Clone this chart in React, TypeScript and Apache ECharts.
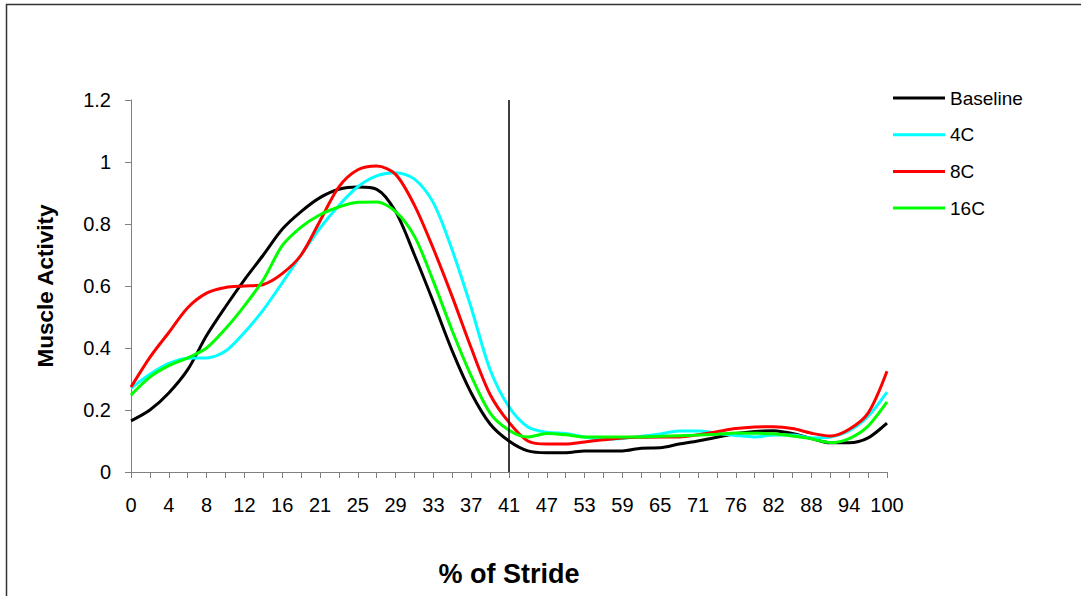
import React, { useEffect, useRef } from "react";
import * as echarts from "echarts";

const strideLabels = [
  "0", "2", "4", "6", "8", "10", "12", "14", "16", "18", "21", "23", "25", "27", "29", "31", "33", "35", "37", "39",
  "41", "44", "47", "50", "53", "56", "59", "62", "65", "68", "71", "73", "76", "79", "82", "85", "88", "91", "94", "97", "100",
];

const baseline = [
  0.165, 0.2, 0.255, 0.33, 0.44, 0.533, 0.62, 0.7, 0.783, 0.84,
  0.885, 0.912, 0.919, 0.912, 0.84, 0.7, 0.548, 0.39, 0.255, 0.155,
  0.1, 0.068, 0.062, 0.062, 0.068, 0.068, 0.068, 0.077, 0.078, 0.09,
  0.1, 0.112, 0.124, 0.131, 0.133, 0.124, 0.108, 0.094, 0.094, 0.11, 0.158,
];
const c4 = [
  0.27, 0.315, 0.35, 0.367, 0.368, 0.39, 0.45, 0.523, 0.61, 0.7,
  0.787, 0.86, 0.92, 0.955, 0.965, 0.945, 0.868, 0.715, 0.53, 0.33,
  0.21, 0.145, 0.128, 0.124, 0.113, 0.106, 0.108, 0.115, 0.123, 0.132,
  0.132, 0.125, 0.118, 0.113, 0.119, 0.119, 0.11, 0.113, 0.133, 0.18, 0.258,
];
const c8 = [
  0.274, 0.37, 0.45, 0.53, 0.577, 0.595, 0.6, 0.605, 0.64, 0.7,
  0.81, 0.92, 0.975, 0.987, 0.96, 0.86, 0.72, 0.565, 0.4, 0.25,
  0.16, 0.1, 0.09, 0.09, 0.097, 0.104, 0.11, 0.112, 0.113, 0.113,
  0.12, 0.13, 0.14, 0.145, 0.146, 0.14, 0.125, 0.116, 0.138, 0.19, 0.325,
];
const c16 = [
  0.248, 0.306, 0.343, 0.368, 0.4, 0.462, 0.536, 0.62, 0.73, 0.79,
  0.83, 0.855, 0.87, 0.871, 0.84, 0.76, 0.615, 0.455, 0.31, 0.19,
  0.135, 0.113, 0.124, 0.12, 0.113, 0.113, 0.113, 0.113, 0.115, 0.117,
  0.119, 0.122, 0.126, 0.125, 0.123, 0.116, 0.107, 0.095, 0.108, 0.148, 0.226,
];

const seriesNames = ["Baseline", "4C", "8C", "16C"];
const seriesColors = ["#000000", "#00FFFF", "#FF0000", "#00FF00"];
const seriesValues = [baseline, c4, c8, c16];
const dividerLabel = "41";

const FONT = "'Liberation Sans', Arial, sans-serif";

export default function App() {
  const ref = useRef<HTMLDivElement>(null);

  useEffect(() => {
    if (!ref.current) return;
    const chart = echarts.init(ref.current, null, { renderer: "svg" });
    const series: any[] = seriesNames.map((name, i) => ({
      name,
      type: "line",
      data: seriesValues[i],
      showSymbol: false,
      smooth: 0.3,
      lineStyle: { color: seriesColors[i], width: 3 },
      itemStyle: { color: seriesColors[i] },
      z: 3 + i,
    }));
    series[0].markLine = {
      silent: true,
      symbol: "none",
      label: { show: false },
      lineStyle: { color: "#000", width: 1.5, type: "solid" },
      data: [{ xAxis: strideLabels.indexOf(dividerLabel) }],
      z: 10,
    };

    chart.setOption({
      animation: false,
      backgroundColor: "#ffffff",
      grid: { left: 131, right: 194, top: 100, bottom: 124, containLabel: false },
      xAxis: {
        type: "category",
        data: strideLabels,
        boundaryGap: false,
        axisLine: { lineStyle: { color: "#808080", width: 1 } },
        axisTick: { show: true, interval: 0, length: 6, lineStyle: { color: "#808080" } },
        axisLabel: { interval: 1, margin: 23, fontSize: 20, color: "#000", fontFamily: FONT },
        splitLine: { show: false },
      },
      yAxis: {
        type: "value",
        min: 0,
        max: 1.2,
        interval: 0.2,
        axisLine: { show: true, lineStyle: { color: "#808080", width: 1 } },
        axisTick: { show: true, length: 6, lineStyle: { color: "#808080" } },
        axisLabel: { margin: 20, fontSize: 20, color: "#000", fontFamily: FONT },
        splitLine: { show: false },
      },
      legend: {
        orient: "vertical",
        left: 888,
        top: 83,
        itemWidth: 52,
        itemHeight: 3,
        itemGap: 16.7,
        icon: "rect",
        data: seriesNames,
        textStyle: { fontSize: 19, color: "#000", fontFamily: FONT, lineHeight: 20 },
      },
      graphic: [
        {
          type: "rect",
          silent: true,
          shape: { x: 6.5, y: 4.5, width: 1200, height: 800 },
          style: { fill: "none", stroke: "#333333", lineWidth: 1.5 },
        },
        {
          type: "text",
          x: 509,
          y: 574,
          style: {
            text: "% of Stride",
            font: `bold 27px ${FONT}`,
            fill: "#000",
            textAlign: "center",
            textVerticalAlign: "middle",
          },
        },
        {
          type: "text",
          x: 45,
          y: 286,
          rotation: Math.PI / 2,
          style: {
            text: "Muscle Activity",
            font: `bold 22.5px ${FONT}`,
            fill: "#000",
            textAlign: "center",
            textVerticalAlign: "middle",
          },
        },
      ],
      series,
    });
    return () => chart.dispose();
  }, []);

  return (
    <div
      ref={ref}
      style={{ position: "absolute", left: 0, top: 0, width: 1081, height: 596, background: "#fff" }}
    />
  );
}
